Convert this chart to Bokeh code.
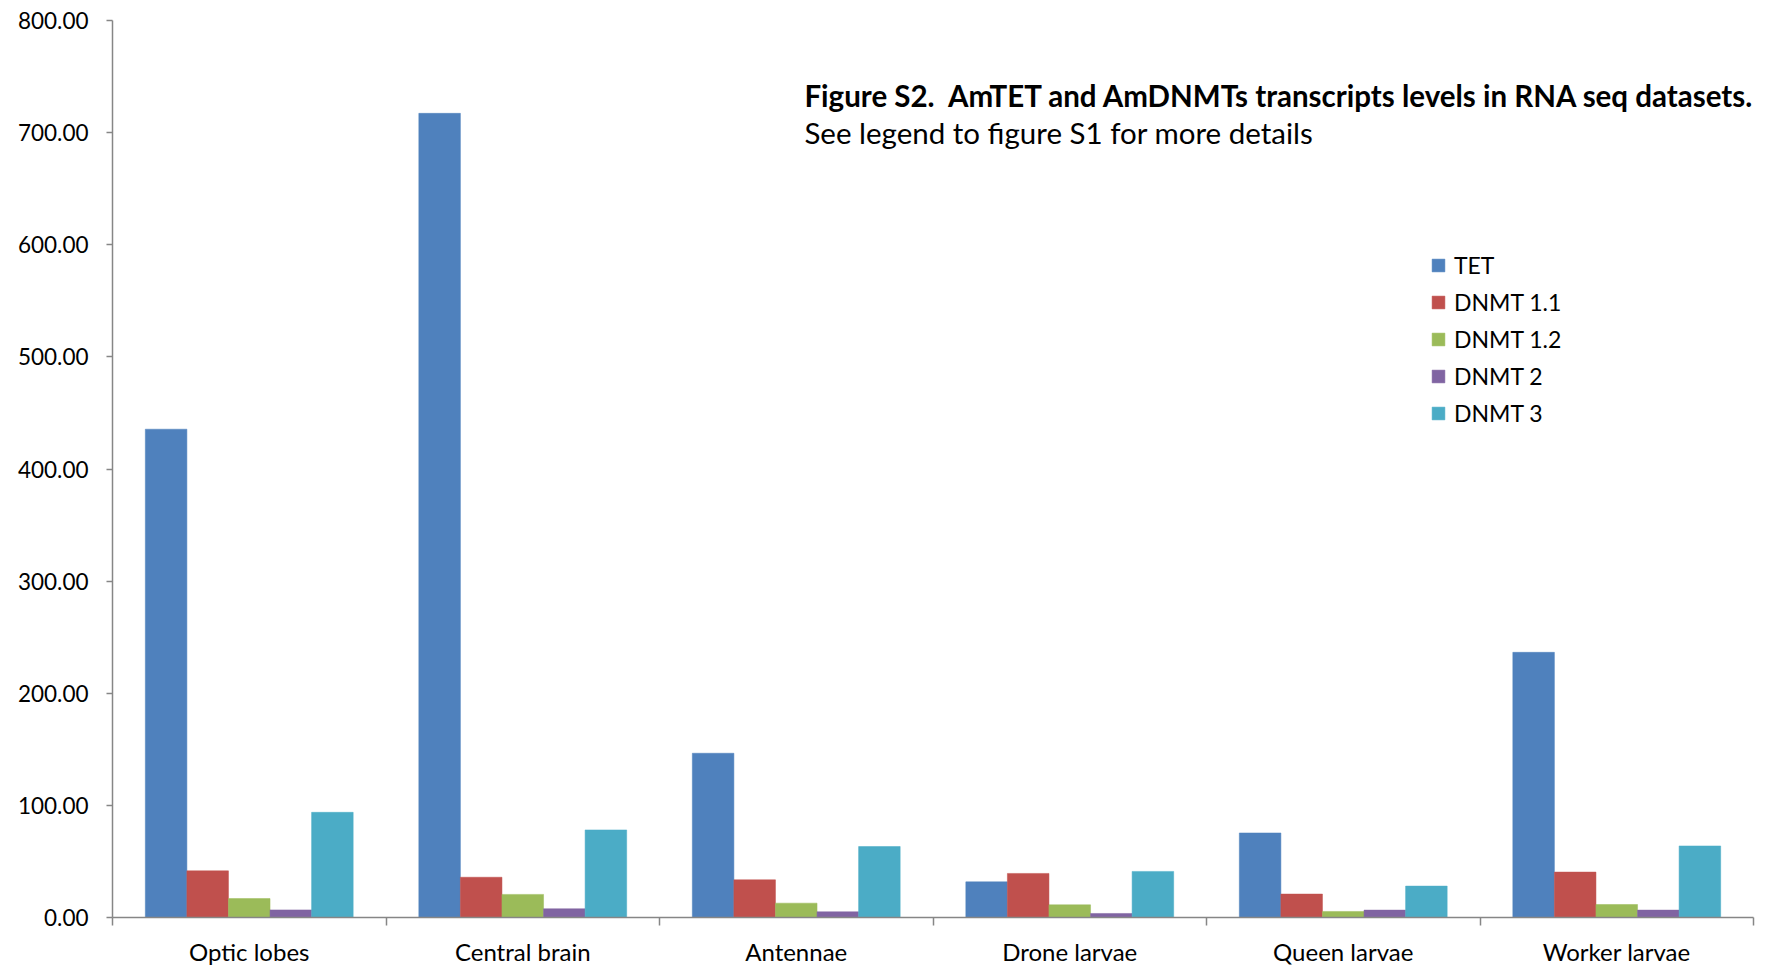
from bokeh.plotting import figure
from bokeh.models import (ColumnDataSource, Range1d, FixedTicker, Legend, LegendItem,
                          Label, NumeralTickFormatter)
from bokeh.transform import dodge
from bokeh.embed import file_html
from bokeh.resources import INLINE

categories = ["Optic lobes", "Central brain", "Antennae", "Drone larvae", "Queen larvae", "Worker larvae"]
series_names = ["TET", "DNMT 1.1", "DNMT 1.2", "DNMT 2", "DNMT 3"]
tet = [435.5, 717.2, 146.5, 31.8, 75.4, 236.5]
dnmt11 = [41.6, 35.9, 33.6, 39.3, 20.9, 40.5]
dnmt12 = [16.9, 20.6, 12.8, 11.3, 5.4, 11.6]
dnmt2 = [6.8, 7.8, 5.1, 3.6, 6.6, 6.6]
dnmt3 = [93.8, 78.1, 63.3, 41.1, 28.0, 63.8]
colors = ["#4F81BD", "#C0504D", "#9BBB59", "#8064A2", "#4BACC6"]
y_ticks = [0, 100, 200, 300, 400, 500, 600, 700, 800]
title_line1 = "Figure S2.\u00a0 AmTET and AmDNMTs transcripts levels in RNA seq datasets."
title_line2 = "See legend to figure S1 for more details"

FONT = "Lato"
AXIS_COLOR = "#868686"

centers = [i + 0.5 for i in range(len(categories))]
data = dict(center=centers, tet=tet, dnmt11=dnmt11, dnmt12=dnmt12, dnmt2=dnmt2, dnmt3=dnmt3)
src = ColumnDataSource(data)
cols = ["tet", "dnmt11", "dnmt12", "dnmt2", "dnmt3"]

p = figure(width=1766, height=969, output_backend="svg", toolbar_location=None,
           x_range=Range1d(0, 6), y_range=Range1d(0, 800),
           min_border_left=112, min_border_right=13, min_border_top=20, min_border_bottom=52)
p.outline_line_color = None
p.grid.visible = False
p.background_fill_color = "white"

bw = 0.152
renderers = []
for j, (c, col) in enumerate(zip(cols, colors)):
    r = p.vbar(x=dodge("center", (j - 2) * bw, range=p.x_range), top=c, width=bw, bottom=0,
               source=src, fill_color=col, line_color=col, line_width=0.5)
    renderers.append(r)

# y axis
ya = p.yaxis[0]
ya.ticker = FixedTicker(ticks=y_ticks, minor_ticks=[])
ya.formatter = NumeralTickFormatter(format="0.00")
ya.axis_line_color = AXIS_COLOR
ya.axis_line_width = 1.5
ya.major_tick_line_color = AXIS_COLOR
ya.major_tick_line_width = 1.5
ya.major_tick_out = 6
ya.major_tick_in = 0
ya.minor_tick_line_color = None
ya.major_label_text_font = FONT
ya.major_label_text_font_size = "22.5px"
ya.major_label_text_color = "black"
ya.major_label_standoff = 18

# x axis: labels at centers, boundary ticks as minor ticks
xa = p.xaxis[0]
xa.ticker = FixedTicker(ticks=centers, minor_ticks=list(range(len(categories) + 1)))
xa.major_label_overrides = {c: n for c, n in zip(centers, categories)}
xa.axis_line_color = AXIS_COLOR
xa.axis_line_width = 1.5
xa.major_tick_line_color = None
xa.major_tick_out = 8
xa.major_tick_in = 0
xa.minor_tick_line_color = AXIS_COLOR
xa.minor_tick_line_width = 1.5
xa.minor_tick_out = 8
xa.minor_tick_in = 0
xa.major_label_text_font = FONT
xa.major_label_text_font_size = "24px"
xa.major_label_text_color = "black"
xa.major_label_standoff = 11

# title texts
p.add_layout(Label(x=2.53, y=733, text=title_line1, text_font=FONT, text_font_style="bold",
                   text_font_size="29.5px", text_color="black", text_baseline="alphabetic"))
p.add_layout(Label(x=2.53, y=700, text=title_line2, text_font=FONT,
                   text_font_size="29.5px", text_color="black", text_baseline="alphabetic"))

legend = Legend(items=[LegendItem(label=n, renderers=[r]) for n, r in zip(series_names, renderers)],
                location=(1318, 490), glyph_width=16, glyph_height=16, label_standoff=8,
                spacing=9, padding=0, margin=0, border_line_color=None,
                background_fill_alpha=0, label_text_font=FONT, label_text_font_size="23px",
                label_text_color="black", label_height=28)
p.add_layout(legend)

open("out.html", "w").write(file_html(p, INLINE))
